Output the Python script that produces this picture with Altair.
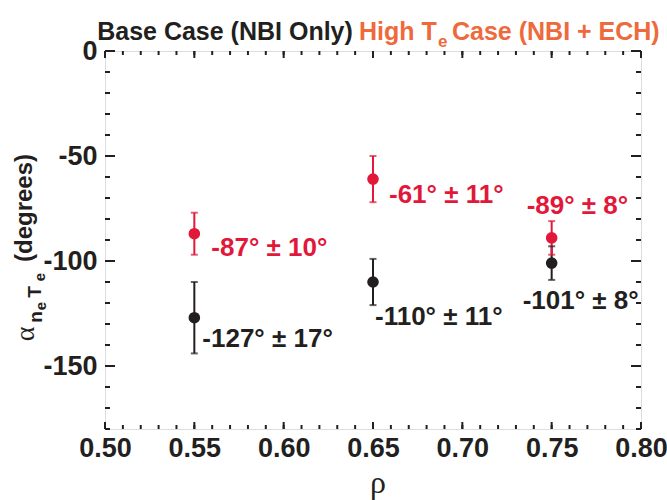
import altair as alt
import pandas as pd

# Radial positions and measured phase angles (degrees) with uncertainties
rho = [0.55, 0.65, 0.75]
base_alpha = [-127, -110, -101]
base_err = [17, 11, 8]
high_alpha = [-87, -61, -89]
high_err = [10, 11, 8]

x_tick_labels = [0.50, 0.55, 0.60, 0.65, 0.70, 0.75, 0.80]
y_tick_labels = [0, -50, -100, -150]
x_minor = [round(0.50 + 0.01 * i, 2) for i in range(31)]
y_minor = [-10 * i for i in range(19)]

BLACK = "#231F20"
RED = "#E2183A"
ORANGE = "#EE6A3C"
SANS = "Liberation Sans, Arial, sans-serif"
SERIF = "Liberation Serif, Times New Roman, serif"

W, H = 536, 378

rows = []
for case, vals, errs in (("base", base_alpha, base_err), ("high", high_alpha, high_err)):
    for i, (r, a, e) in enumerate(zip(rho, vals, errs)):
        rows.append({"case": case, "idx": i, "rho": r, "alpha": a,
                     "lo": a - e, "hi": a + e, "label": f"{a}\u00b0 \u00b1 {e}\u00b0"})
df = pd.DataFrame(rows)

xs = alt.Scale(domain=[0.5, 0.8], nice=False, zero=False)
ys = alt.Scale(domain=[-180, 0], nice=False, zero=False)
color = alt.Color("case:N", scale=alt.Scale(domain=["base", "high"], range=[BLACK, RED]), legend=None)

x_axis = alt.Axis(values=x_tick_labels, format=".2f", title=None, ticks=False, tickSize=0,
                  grid=False, domain=False, labelFont=SANS, labelFontSize=27,
                  labelFontWeight="bold", labelColor=BLACK, labelPadding=6,
                  labelFlush=False, labelOverlap=False)
# plain hyphen for negative labels
y_axis = alt.Axis(values=y_tick_labels, title=None, ticks=False, tickSize=0, grid=False,
                  domain=False, labelFont=SANS, labelFontSize=27, labelFontWeight="bold",
                  labelColor=BLACK, labelPadding=8, labelOverlap=False,
                  labelExpr="'' + datum.value")


def X(field):
    return alt.X(field, scale=xs, axis=x_axis)


def Y(field):
    return alt.Y(field, scale=ys, axis=y_axis)


base = alt.Chart(df)

points = base.mark_circle(size=135, opacity=1).encode(
    x=X("rho:Q"), y=Y("alpha:Q"), color=color
)
bars = base.mark_rule(strokeWidth=2).encode(
    x=X("rho:Q"), y=Y("lo:Q"), y2="hi:Q", color=color
)
cap_lo = base.mark_tick(orient="horizontal", size=7, thickness=2).encode(
    x=X("rho:Q"), y=Y("lo:Q"), color=color
)
cap_hi = base.mark_tick(orient="horizontal", size=7, thickness=2).encode(
    x=X("rho:Q"), y=Y("hi:Q"), color=color
)

# value labels beside each point
offsets = {
    ("base", 0): (8, 21), ("base", 1): (2, 35), ("base", 2): (-29, 38),
    ("high", 0): (17, 14), ("high", 1): (16, 16), ("high", 2): (-25, -32),
}
labels = []
for (case, i), (dx, dy) in offsets.items():
    labels.append(
        base.transform_filter((alt.datum.case == case) & (alt.datum.idx == i))
        .mark_text(align="left", baseline="middle", dx=dx, dy=dy, font=SANS,
                   fontSize=26, fontWeight="bold")
        .encode(x=X("rho:Q"), y=Y("alpha:Q"), text="label:N", color=color)
    )


# inward tick marks on all four sides
def xticks(vals, length):
    d = alt.Chart(pd.DataFrame({"v": vals}))
    top = d.mark_rule(color=BLACK, strokeWidth=2).encode(
        x=X("v:Q"), y=alt.value(0), y2=alt.value(length))
    bot = d.mark_rule(color=BLACK, strokeWidth=2).encode(
        x=X("v:Q"), y=alt.value(H), y2=alt.value(H - length))
    return [top, bot]


def yticks(vals, length):
    d = alt.Chart(pd.DataFrame({"v": vals}))
    left = d.mark_rule(color=BLACK, strokeWidth=2).encode(
        y=Y("v:Q"), x=alt.value(0), x2=alt.value(length))
    right = d.mark_rule(color=BLACK, strokeWidth=2).encode(
        y=Y("v:Q"), x=alt.value(W), x2=alt.value(W - length))
    return [left, right]


ticks = xticks(x_minor, 4) + xticks(x_tick_labels, 7) + yticks(y_minor, 5) + yticks(y_tick_labels, 10)


def txt(text, x, y, size, col, font=SANS, weight="bold", angle=0, align="center", baseline="alphabetic"):
    kw = dict(align=align, baseline=baseline, font=font, fontSize=size,
              fontWeight=weight, color=col)
    if angle:
        kw["angle"] = angle
    return alt.Chart(pd.DataFrame({"t": [text]})).mark_text(**kw).encode(
        x=alt.value(x), y=alt.value(y), text="t:N")


titles = [
    txt("Base Case (NBI Only)", 120, -11, 25, BLACK, align="center"),
    txt("High T", 254, -11, 25, ORANGE, align="left"),
    txt("e", 333, -4, 17, ORANGE, align="left"),
    txt("Case (NBI + ECH)", 347, -11, 25, ORANGE, align="left"),
    # y-axis title, rotated
    txt("\u03b1", -79, 283, 28, BLACK, font=SERIF, weight="normal", angle=270, baseline="middle"),
    txt("n", -69, 266, 19, BLACK, angle=270, baseline="middle"),
    txt("e", -64, 255, 15, BLACK, angle=270, baseline="middle"),
    txt("T", -70, 241, 19, BLACK, angle=270, baseline="middle"),
    txt("e", -65, 226, 15, BLACK, angle=270, baseline="middle"),
    txt("(degrees)", -80, 157, 24, BLACK, angle=270, baseline="middle"),
    # x-axis title
    txt("\u03c1", 273, 442, 32, BLACK, font=SERIF, weight="normal"),
]

chart = alt.layer(points, bars, cap_lo, cap_hi, *labels, *ticks, *titles).properties(
    width=W, height=H,
    autosize=alt.AutoSizeParams(type="none"),
    padding={"left": 105, "top": 51, "right": 26, "bottom": 71},
).configure_view(stroke=BLACK, strokeWidth=2).configure(background="white")

chart.save("out.html", embed_options={"renderer": "svg", "actions": False})
